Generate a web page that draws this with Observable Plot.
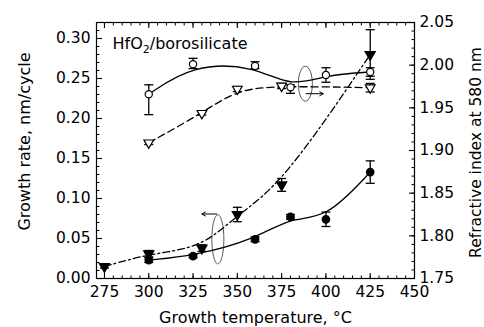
<!DOCTYPE html>
<html><head><meta charset="utf-8">
<script src="https://cdn.jsdelivr.net/npm/d3@7"></script>
<script src="https://cdn.jsdelivr.net/npm/@observablehq/plot@0.6"></script>
<style>body{margin:0;background:#fff} svg{display:block}</style>
</head><body><div id="chart"></div>
<script>
// Growth rate (left axis), filled circles
const grTempA = [300, 325, 360, 380, 400, 425];
const grRateA = [0.023, 0.028, 0.049, 0.077, 0.074, 0.133];
const grErrA  = [0.003, 0.002, 0.003, 0.003, 0.009, 0.014];
// Growth rate (left axis), filled down-triangles
const grTempB = [275, 300, 330, 350, 375, 425];
const grRateB = [0.015, 0.031, 0.038, 0.080, 0.117, 0.280];
const grErrB  = [0.002, 0.004, 0.004, 0.009, 0.008, 0.031];
// Refractive index (right axis), open circles
const riTempA = [300, 325, 360, 380, 400, 425];
const riA     = [1.966, 2.001, 1.999, 1.974, 1.9885, 1.992];
const riLoA   = [1.942, 1.996, 1.996, 1.967, 1.980, 1.987];
const riHiA   = [1.977, 2.008, 2.004, 1.977, 1.997, 1.997];
// Refractive index (right axis), open down-triangles
const riTempB = [300, 330, 350, 375, 425];
const riB     = [1.909, 1.9436, 1.972, 1.9756, 1.9736];
const riErrB  = [0.002, 0.002, 0.003, 0.003, 0.005];

// Axis ticks
const xTicks = [275, 300, 325, 350, 375, 400, 425, 450];
const yLeftTicks = [0.00, 0.05, 0.10, 0.15, 0.20, 0.25, 0.30];
const yRightTicks = [1.75, 1.80, 1.85, 1.90, 1.95, 2.00, 2.05];
const xMinor = d3.range(275, 451, 5);
const yLeftMinor = d3.range(0, 0.3201, 0.01);
const yRightMinor = d3.range(1.75, 2.0501, 0.01);

// Annotations (ellipse markers + arrows), in data units of the left axis
const ellX = [339, 388.4];
const ellY = [0.049, 0.2435];
const arrowX1 = [338.3, 388.8];
const arrowX2 = [330, 398.5];
const arrowY  = [0.0806, 0.231];

const titleText = "HfO2/borosilicate";

const RMIN = 1.75, RMAX = 2.05, LMAX = 0.32;
const toLeft = n => (n - RMIN) / (RMAX - RMIN) * LMAX;
const fromLeft = v => v / LMAX * (RMAX - RMIN) + RMIN;

const line = (dx, dy) => ({draw(c){ c.moveTo(0,0); c.lineTo(dx,dy); }});
const cap = {draw(c){ c.moveTo(-4.5,0); c.lineTo(4.5,0); }};
const ellipse = (rx, ry) => ({draw(c){
  const k = 0.5523;
  c.moveTo(rx, 0);
  c.bezierCurveTo(rx, ry*k, rx*k, ry, 0, ry);
  c.bezierCurveTo(-rx*k, ry, -rx, ry*k, -rx, 0);
  c.bezierCurveTo(-rx, -ry*k, -rx*k, -ry, 0, -ry);
  c.bezierCurveTo(rx*k, -ry, rx, -ry*k, rx, 0);
  c.closePath();
}});

const A = grTempA.map((t,i)=>({t, v: grRateA[i], lo: grRateA[i]-grErrA[i], hi: grRateA[i]+grErrA[i]}));
const B = grTempB.map((t,i)=>({t, v: grRateB[i], lo: grRateB[i]-grErrB[i], hi: grRateB[i]+grErrB[i]}));
const C = riTempA.map((t,i)=>({t, v: toLeft(riA[i]), lo: toLeft(riLoA[i]), hi: toLeft(riHiA[i])}));
const D = riTempB.map((t,i)=>({t, v: toLeft(riB[i]), lo: toLeft(riB[i]-riErrB[i]), hi: toLeft(riB[i]+riErrB[i])}));

const K = "black", SW = 1.3;
const errMarks = S => [
  Plot.ruleX(S, {x: "t", y1: "lo", y2: "hi", stroke: K, strokeWidth: SW}),
  Plot.dot(S, {x: "t", y: "lo", symbol: cap, fill: "none", stroke: K, strokeWidth: SW}),
  Plot.dot(S, {x: "t", y: "hi", symbol: cap, fill: "none", stroke: K, strokeWidth: SW})
];

const chart = Plot.plot({
  width: 484, height: 327,
  marginLeft: 96, marginRight: 70, marginTop: 22, marginBottom: 49,
  style: {fontFamily: "'DejaVu Sans', sans-serif", fontSize: "15.5px", color: "black", background: "white"},
  x: {domain: [270.5, 450]},
  y: {domain: [0, LMAX]},
  marks: [
    Plot.frame({stroke: K, strokeWidth: 1.2}),
    // ticks (inward)
    Plot.dot(xMinor, {x: d=>d, frameAnchor: "bottom", symbol: line(0,-3), fill: "none", stroke: K, strokeWidth: 1}),
    Plot.dot(xTicks, {x: d=>d, frameAnchor: "bottom", symbol: line(0,-5.5), fill: "none", stroke: K, strokeWidth: 1.1}),
    Plot.dot(xMinor, {x: d=>d, frameAnchor: "top", symbol: line(0,3), fill: "none", stroke: K, strokeWidth: 1}),
    Plot.dot(xTicks, {x: d=>d, frameAnchor: "top", symbol: line(0,5.5), fill: "none", stroke: K, strokeWidth: 1.1}),
    Plot.dot(yLeftMinor, {y: d=>d, frameAnchor: "left", symbol: line(3,0), fill: "none", stroke: K, strokeWidth: 1}),
    Plot.dot(yLeftTicks, {y: d=>d, frameAnchor: "left", symbol: line(5.5,0), fill: "none", stroke: K, strokeWidth: 1.1}),
    Plot.dot(yRightMinor, {y: d=>toLeft(d), frameAnchor: "right", symbol: line(-3,0), fill: "none", stroke: K, strokeWidth: 1}),
    Plot.dot(yRightTicks, {y: d=>toLeft(d), frameAnchor: "right", symbol: line(-5.5,0), fill: "none", stroke: K, strokeWidth: 1.1}),
    // tick labels
    Plot.axisX(xTicks, {tickSize: 0, tickPadding: 7, label: null}),
    Plot.axisY(yLeftTicks, {anchor: "left", tickSize: 0, tickPadding: 6, label: null, tickFormat: d => d.toFixed(2)}),
    Plot.axisY(yRightTicks.map(toLeft), {anchor: "right", tickSize: 0, tickPadding: 5, label: null, tickFormat: d => fromLeft(d).toFixed(2)}),
    // axis titles
    Plot.text([0], {frameAnchor: "bottom", text: () => "Growth temperature, °C", textAnchor: "middle", lineAnchor: "middle", dy: 39, fontSize: 16}),
    Plot.text([0], {frameAnchor: "left", text: () => "Growth rate, nm/cycle", textAnchor: "middle", lineAnchor: "middle", rotate: -90, dx: -72, dy: -9, fontSize: 16}),
    Plot.text([0], {frameAnchor: "right", text: () => "Refractive index at 580 nm", textAnchor: "middle", lineAnchor: "middle", rotate: -90, dx: 61.5, dy: 2, fontSize: 15.5}),
    Plot.text([titleText], {frameAnchor: "top-left", text: d=>d, textAnchor: "start", lineAnchor: "middle", dx: 16, dy: 21, fontSize: 16}),
    // annotations
    Plot.dot([0], {x: ellX[0], y: ellY[0], symbol: ellipse(6, 24.5), fill: "none", stroke: "#555", strokeWidth: 1}),
    Plot.dot([0], {x: ellX[1], y: ellY[1], symbol: ellipse(7, 17.5), fill: "none", stroke: "#555", strokeWidth: 1}),
    Plot.arrow([0, 1], {x1: i => arrowX1[i], x2: i => arrowX2[i], y1: i => arrowY[i], y2: i => arrowY[i], stroke: K, strokeWidth: 1, headLength: 6, bend: 0}),
    // lines
    Plot.line(A, {x: "t", y: "v", curve: "basis", stroke: K, strokeWidth: SW}),
    Plot.line(B, {x: "t", y: "v", curve: "basis", stroke: K, strokeWidth: SW, strokeDasharray: "7,3,2,3"}),
    Plot.line(C, {x: "t", y: "v", curve: "basis", stroke: K, strokeWidth: SW}),
    Plot.line(D, {x: "t", y: "v", curve: "basis", stroke: K, strokeWidth: SW, strokeDasharray: "7,4"}),
    // error bars
    ...errMarks(A), ...errMarks(B), ...errMarks(C), ...errMarks(D),
    // markers
    Plot.dot(A, {x: "t", y: "v", r: 3.6, fill: K, stroke: K}),
    Plot.dot(B, {x: "t", y: "v", r: 3.6, symbol: "triangle", rotate: 180, fill: K, stroke: K}),
    Plot.dot(C, {x: "t", y: "v", r: 3.6, fill: "white", stroke: K, strokeWidth: 1.2}),
    Plot.dot(D, {x: "t", y: "v", r: 3.6, symbol: "triangle", rotate: 180, fill: "white", stroke: K, strokeWidth: 1.2})
  ]
});

chart.querySelectorAll("text").forEach(t => {
  if (t.textContent === titleText) {
    t.textContent = "";
    const ns = "http://www.w3.org/2000/svg";
    const a = document.createElementNS(ns, "tspan"); a.textContent = "HfO";
    const b = document.createElementNS(ns, "tspan"); b.textContent = "2"; b.setAttribute("dy", "4"); b.setAttribute("font-size", "11");
    const c = document.createElementNS(ns, "tspan"); c.textContent = "/borosilicate"; c.setAttribute("dy", "-4");
    t.append(a, b, c);
  }
});
document.getElementById("chart").append(chart);
</script>
</body></html>
